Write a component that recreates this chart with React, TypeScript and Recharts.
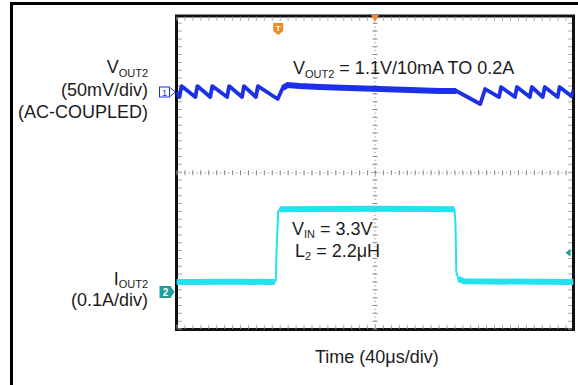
import React from 'react';
import {
  LineChart,
  Line,
  XAxis,
  YAxis,
  CartesianGrid,
  ReferenceLine,
  ReferenceArea,
  ReferenceDot,
} from 'recharts';

// Scope grid: 10 horizontal divisions of 40 µs, 8 vertical divisions
const timeTicks = [0, 40, 80, 120, 160, 200, 240, 280, 320, 360, 400];
const divTicks = [-4, -3, -2, -1, 0, 1, 2, 3, 4];

// Channel 1: VOUT2, AC-coupled, 50 mV/div (mV relative to channel marker)
const ch1OffsetDiv = 2.06;
const ch1MvPerDiv = 50;
const voutTime = [
  0, 3, 5, 19, 21, 34, 36, 51, 53, 66, 68, 80, 82,
  102, 107, 112, 124, 144, 174, 205, 235, 265, 282,
  295, 306, 311,
  325, 327, 341, 343, 356, 358, 369, 371, 384, 386,
  398, 400,
];
const voutMv = [
  0, -6.4, 7.6, -6.4, 7.6, -6.4, 7.6, -6.4, 7.6, -6.4, 7.6, -6.4, 7.6,
  -8.9, 5.1, 8.9, 7.6, 6.4, 5.1, 3.8, 2.5, 1.3, 1.3,
  -7.6, -15.3, 3.8,
  -6.4, 6.4, -6.4, 6.4, -6.4, 6.4, -6.4, 6.4, -6.4, 6.4,
  -5.5, 2.5,
];
// time windows where the trace carries a wide noise band (µs)
const voutNoisy = [[107, 284]];

// Channel 2: IOUT2, 0.1 A/div (mA)
const ch2OffsetDiv = -3.04;
const ch2MaPerDiv = 100;
const ioutTime = [0, 60, 99, 100, 101, 102.5, 104, 200, 280, 281, 282, 284, 290, 400];
const ioutMa = [25, 26, 25, 30, 120, 205, 211, 212, 211, 180, 50, 33, 27, 25];
const ioutNoisy = [[0, 99], [104, 280], [284, 400]];

// Trigger
const triggerTime = 102.5;
const triggerLevelMa = 100;
const triggerPosTime = 200;

const voutData = voutTime.map((t, i) => ({ t, v: ch1OffsetDiv + voutMv[i] / ch1MvPerDiv }));
const ioutData = ioutTime.map((t, i) => ({ t, v: ch2OffsetDiv + ioutMa[i] / ch2MaPerDiv }));
const inRange = (data: { t: number; v: number }[], r: number[]) => data.filter((d) => d.t >= r[0] && d.t <= r[1]);

const BLUE = '#1c30e6';
const CYAN = '#22e2f0';
const TEAL = '#1b9f9f';
const ORANGE = '#f08a28';
const FONT = '"Liberation Sans", Arial, sans-serif';
const TXT = '#1c1c1c';

const Ch1Marker = (p: any) => {
  const { cx, cy } = p;
  return (
    <g>
      <rect x={cx - 17} y={cy - 5} width={10} height={10} fill="#fff" stroke={BLUE} strokeWidth={1} />
      <text x={cx - 12} y={cy + 3.5} fontSize={9} textAnchor="middle" fill={BLUE} fontFamily={FONT}>1</text>
      <path d={`M${cx - 6},${cy - 4} L${cx - 1},${cy} L${cx - 6},${cy + 4}`} fill="none" stroke={BLUE} strokeWidth={1} />
    </g>
  );
};

const Ch2Marker = (p: any) => {
  const { cx, cy } = p;
  return (
    <g>
      <path d={`M${cx - 17},${cy - 6} L${cx - 6},${cy - 6} L${cx - 2},${cy} L${cx - 6},${cy + 6} L${cx - 17},${cy + 6} Z`} fill={TEAL} />
      <text x={cx - 11} y={cy + 4} fontSize={10} fontWeight="bold" textAnchor="middle" fill="#fff" fontFamily={FONT}>2</text>
    </g>
  );
};

const TrigMarker = (p: any) => {
  const { cx, cy } = p;
  return (
    <g>
      <path d={`M${cx - 5},${cy - 6} L${cx + 5},${cy - 6} L${cx + 5},${cy + 2} L${cx},${cy + 6} L${cx - 5},${cy + 2} Z`} fill={ORANGE} />
      <text x={cx} y={cy + 2} fontSize={8} fontWeight="bold" textAnchor="middle" fill="#fff" fontFamily={FONT}>T</text>
    </g>
  );
};

const TrigPos = (p: any) => {
  const { cx, cy } = p;
  return <path d={`M${cx - 4},${cy - 1} L${cx + 4},${cy - 1} L${cx},${cy + 6} Z`} fill={ORANGE} />;
};

const TrigLevel = (p: any) => {
  const { cx, cy } = p;
  return <path d={`M${cx - 8},${cy} L${cx - 3},${cy - 4} L${cx - 3},${cy + 4} Z`} fill={TEAL} />;
};

export default function App() {
  return (
    <div style={{ position: 'absolute', left: 0, top: 0, width: 578, height: 385, overflow: 'hidden', background: '#fff' }}>
      <div
        style={{
          position: 'absolute',
          left: 10,
          top: 2,
          width: 700,
          height: 500,
          borderLeft: '3px solid #000',
          borderTop: '3px solid #000',
        }}
      />
      <div style={{ position: 'absolute', left: 0, top: 0 }}>
        <LineChart width={578} height={385} margin={{ top: 16, left: 176.5, right: 4.5, bottom: 55.5 }}>
          <XAxis
            type="number"
            dataKey="t"
            domain={[0, 400]}
            ticks={timeTicks}
            tick={false}
            axisLine={false}
            tickLine={false}
            height={0}
            allowDataOverflow
          />
          <YAxis
            type="number"
            domain={[-4, 4]}
            ticks={divTicks}
            tick={false}
            axisLine={false}
            tickLine={false}
            width={0}
            allowDataOverflow
          />
          <CartesianGrid stroke="#a4a4a4" strokeDasharray="1.5 6.4" />
          <ReferenceLine y={0} stroke="#8a8a8a" strokeDasharray="1.2 2.77" />
          <ReferenceLine y={0} stroke="#8a8a8a" strokeWidth={5} strokeDasharray="1 6.94" />
          <ReferenceLine x={200} stroke="#8a8a8a" strokeDasharray="1.2 2.72" />
          <ReferenceLine x={200} stroke="#8a8a8a" strokeWidth={5} strokeDasharray="1 6.84" />
          <ReferenceLine y={3.93} stroke="#a8a8a8" strokeWidth={4} strokeDasharray="1 6.94" />
          <ReferenceLine y={-3.93} stroke="#a8a8a8" strokeWidth={4} strokeDasharray="1 6.94" />
          <ReferenceLine x={3.5} stroke="#a8a8a8" strokeWidth={4} strokeDasharray="1 6.84" />
          <ReferenceLine x={396.5} stroke="#a8a8a8" strokeWidth={4} strokeDasharray="1 6.84" />
          <Line
            data={ioutData}
            dataKey="v"
            type="linear"
            stroke={CYAN}
            strokeWidth={2}
            dot={false}
            isAnimationActive={false}
            strokeLinejoin="round"
          />
          {ioutNoisy.map((r, i) => (
            <Line
              key={`in${i}`}
              data={inRange(ioutData, r)}
              dataKey="v"
              type="linear"
              stroke={CYAN}
              strokeWidth={6}
              dot={false}
              isAnimationActive={false}
            />
          ))}
          <Line
            data={voutData}
            dataKey="v"
            type="linear"
            stroke={BLUE}
            strokeWidth={3.8}
            dot={false}
            isAnimationActive={false}
            strokeLinejoin="round"
          />
          {voutNoisy.map((r, i) => (
            <Line
              key={`vn${i}`}
              data={inRange(voutData, r)}
              dataKey="v"
              type="linear"
              stroke={BLUE}
              strokeWidth={6}
              dot={false}
              isAnimationActive={false}
            />
          ))}
          <ReferenceArea x1={0} x2={400} y1={-4} y2={4} fill="none" stroke="#111" strokeWidth={3} ifOverflow="visible" />
          <ReferenceDot x={0} y={ch1OffsetDiv} r={0} ifOverflow="visible" shape={(p: any) => <Ch1Marker {...p} />} />
          <ReferenceDot x={0} y={ch2OffsetDiv} r={0} ifOverflow="visible" shape={(p: any) => <Ch2Marker {...p} />} />
          <ReferenceDot x={triggerTime} y={3.67} r={0} ifOverflow="visible" shape={(p: any) => <TrigMarker {...p} />} />
          <ReferenceDot x={triggerPosTime} y={4} r={0} ifOverflow="visible" shape={(p: any) => <TrigPos {...p} />} />
          <ReferenceDot
            x={400}
            y={ch2OffsetDiv + triggerLevelMa / ch2MaPerDiv}
            r={0}
            ifOverflow="visible"
            shape={(p: any) => <TrigLevel {...p} />}
          />
        </LineChart>
      </div>
      <svg width={578} height={385} style={{ position: 'absolute', left: 0, top: 0, pointerEvents: 'none' }}>
        <g fontFamily={FONT} fill={TXT}>
          <text x={293} y={74} fontSize={18}>
            <tspan>V</tspan>
            <tspan fontSize={11} dy={4}>OUT2</tspan>
            <tspan fontSize={18} dy={-4}> = 1.1V/10mA TO 0.2A</tspan>
          </text>
          <text x={148} y={73} fontSize={18} textAnchor="end">
            <tspan>V</tspan>
            <tspan fontSize={11} dy={4}>OUT2</tspan>
          </text>
          <text x={148} y={96} fontSize={18} textAnchor="end">(50mV/div)</text>
          <text x={148} y={118} fontSize={18} textAnchor="end">(AC-COUPLED)</text>
          <text x={148} y={285} fontSize={18} textAnchor="end">
            <tspan>I</tspan>
            <tspan fontSize={11} dy={3}>OUT2</tspan>
          </text>
          <text x={148} y={306} fontSize={18} textAnchor="end">(0.1A/div)</text>
          <text x={292} y={235} fontSize={18}>
            <tspan>V</tspan>
            <tspan fontSize={11} dy={3}>IN</tspan>
            <tspan fontSize={18} dy={-3}> = 3.3V</tspan>
          </text>
          <text x={295} y={257} fontSize={18}>
            <tspan>L</tspan>
            <tspan fontSize={11} dy={3}>2</tspan>
            <tspan fontSize={18} dy={-3}> = 2.2μH</tspan>
          </text>
          <text x={315} y={363} fontSize={18}>Time (40μs/div)</text>
        </g>
      </svg>
    </div>
  );
}
